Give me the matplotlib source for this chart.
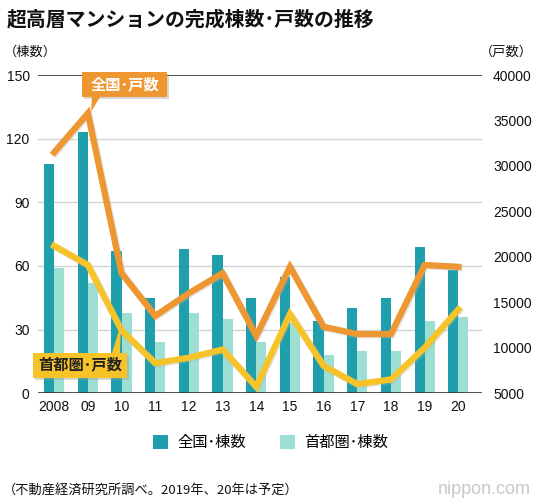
import numpy as np
import matplotlib.pyplot as plt
from matplotlib.patches import FancyBboxPatch, Polygon
from matplotlib.transforms import ScaledTranslation

plt.rcParams['font.family'] = ['Noto Sans CJK JP', 'DejaVu Sans']

# データ
years = ['2008', '09', '10', '11', '12', '13', '14', '15', '16', '17', '18', '19', '20']
zenkoku_tou = [108, 123, 67, 45, 68, 65, 45, 55, 34, 40, 45, 69, 58]
shutoken_tou = [59, 52, 38, 24, 38, 35, 24, 33, 18, 20, 20, 34, 36]
zenkoku_ko = [31500, 35800, 18200, 13500, 16000, 18200, 11300, 18900, 12300, 11500, 11500, 19100, 18900]
shutoken_ko = [21200, 19100, 11900, 8300, 8900, 9800, 5700, 13700, 8000, 6000, 6500, 10000, 14200]

c_dark = '#1e9fab'
c_light = '#9ddfd3'
c_orange = '#ee9630'
c_yellow = '#f6c428'
num_font = 'Liberation Sans'

x = np.arange(len(years))

fig = plt.figure(figsize=(5.36, 5.04), dpi=100)
ax = fig.add_axes([0.071, 0.220, 0.828, 0.631])
ax2 = ax.twinx()

# 棒グラフ
ax.bar(x - 0.15, zenkoku_tou, width=0.3, color=c_dark, zorder=2, label='全国･棟数')
ax.bar(x + 0.15, shutoken_tou, width=0.3, color=c_light, zorder=2, label='首都圏･棟数')
ax.set_ylim(0, 150)
ax.set_yticks([0, 30, 60, 90, 120, 150])
ax.set_xlim(-0.48, 12.7)
ax.set_xticks(x)
ax.set_xticklabels(years)
for v in [30, 60, 90, 120]:
    ax.axhline(v, color='#d4d4d4', lw=1, zorder=1)
ax.axhline(150, color='#333333', lw=1.2, zorder=1)
ax.axhline(0, color='#333333', lw=1.2, zorder=3)

# 折れ線（影付き）
shift = ax2.transData + ScaledTranslation(1/100, -1/100, fig.dpi_scale_trans)
ax2.plot(x, zenkoku_ko, color='#b0b0b0', lw=5, alpha=0.35, zorder=2, transform=shift)
ax2.plot(x, shutoken_ko, color='#b0b0b0', lw=5, alpha=0.35, zorder=2, transform=shift)
ax2.plot(x, zenkoku_ko, color=c_orange, lw=4.5, zorder=3, solid_joinstyle='miter')
ax2.plot(x, shutoken_ko, color=c_yellow, lw=4.5, zorder=3, solid_joinstyle='miter')
ax2.set_ylim(5000, 40000)
ax2.set_yticks(range(5000, 40001, 5000))

for a in (ax, ax2):
    for s in a.spines.values():
        s.set_visible(False)
    a.tick_params(length=0, labelsize=10, colors='#111111')
    for t in a.get_xticklabels() + a.get_yticklabels():
        t.set_fontfamily(num_font)
ax.tick_params(axis='y', pad=6)
ax.tick_params(axis='x', pad=5)
ax2.tick_params(axis='y', pad=8)
ax.set_zorder(1)
ax2.set_zorder(2)

# 吹き出し
def label_box(x0, y0, w, h, tip, base, fc, text, tc):
    shadow = FancyBboxPatch((x0 + 2, y0 - 2), w, h, boxstyle='square,pad=0',
                            transform=None, fc='#999999', ec='none', alpha=0.4, zorder=9)
    box = FancyBboxPatch((x0, y0), w, h, boxstyle='square,pad=0',
                         transform=None, fc=fc, ec='none', zorder=10)
    tri = Polygon([base[0], base[1], tip], closed=True, transform=None,
                  fc=fc, ec='none', zorder=10)
    fig.patches.extend([shadow, box, tri])
    fig.text((x0 + w / 2) / 536, (y0 + h / 2) / 504, text, ha='center', va='center',
             fontsize=11, color=tc, fontweight='bold', zorder=11)

H = 504
label_box(82, H - 97, 85, 25, (91, H - 112), ((92, H - 97), (100, H - 97)),
          c_orange, '全国･戸数', 'white')
label_box(33, H - 378, 94, 25, (121, H - 324), ((112, H - 353), (120, H - 353)),
          c_yellow, '首都圏･戸数', '#222222')

# テキスト
fig.text(0.012, 0.962, '超高層マンションの完成棟数･戸数の推移', fontsize=14.3,
         fontweight='bold', va='center', color='#111111')
fig.text(0.008, 0.897, '（棟数）', fontsize=9.5, va='center', color='#111111')
fig.text(0.995, 0.897, '（戸数）', fontsize=9.5, va='center', ha='right', color='#111111')
fig.text(0.005, 0.028, '（不動産経済研究所調べ。2019年、20年は予定）', fontsize=9.5,
         va='center', color='#111111')
fig.text(0.99, 0.028, 'nippon.com', fontsize=13, va='center', ha='right',
         color='#c8c8c8', fontfamily=num_font)

# 凡例
fig.legend(loc='center', bbox_to_anchor=(0.505, 0.122), ncol=2, frameon=False,
           fontsize=11, handlelength=1.0, handleheight=1.0, columnspacing=2.2,
           handletextpad=0.6)

fig.savefig('out.png', dpi=100)
